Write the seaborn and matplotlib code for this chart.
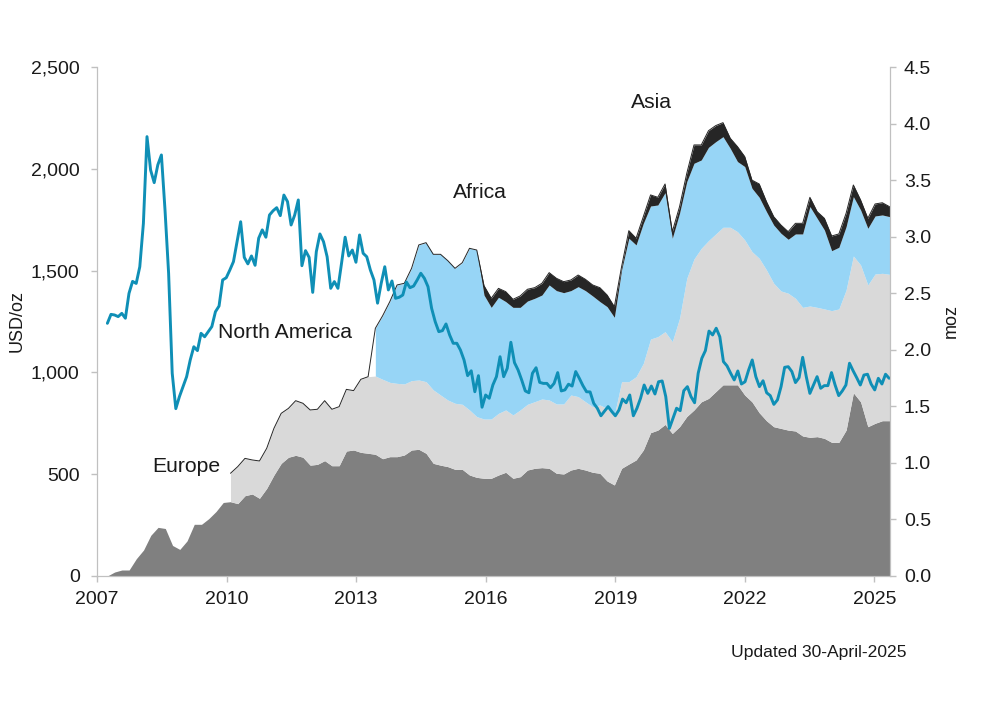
import numpy as np
import matplotlib
matplotlib.use("Agg")
import matplotlib.pyplot as plt
import seaborn as sb

sb.set_style("white")
plt.rcParams['font.family'] = ['Liberation Sans', 'DejaVu Sans']

# monthly price, USD/oz
price = [1241, 1285, 1282, 1274, 1290, 1266, 1388, 1447, 1437, 1519, 1732, 2158, 1994, 1932, 2019, 2068,
         1798, 1487, 996, 822, 881, 930, 979, 1061, 1126, 1107, 1192, 1175, 1200, 1225, 1298, 1326,
         1454, 1465, 1503, 1544, 1642, 1740, 1565, 1533, 1572, 1526, 1659, 1700, 1664, 1773, 1794, 1809,
         1770, 1871, 1839, 1724, 1773, 1847, 1524, 1598, 1565, 1393, 1593, 1680, 1642, 1568, 1413, 1446,
         1413, 1536, 1664, 1572, 1601, 1541, 1675, 1585, 1568, 1503, 1454, 1340, 1437, 1519, 1405, 1449,
         1364, 1369, 1380, 1444, 1416, 1424, 1454, 1487, 1462, 1421, 1315, 1249, 1200, 1205, 1238, 1184,
         1143, 1143, 1110, 1061, 984, 1008, 905, 984, 829, 889, 873, 938, 979, 1077, 979, 1020,
         1148, 1048, 1012, 963, 909, 900, 996, 1023, 951, 946, 946, 925, 946, 999, 909, 914,
         942, 933, 1004, 971, 935, 905, 904, 848, 824, 787, 810, 832, 808, 787, 815, 869,
         851, 889, 787, 824, 873, 938, 897, 933, 894, 954, 958, 881, 725, 775, 824, 812,
         910, 930, 881, 851, 996, 1069, 1107, 1203, 1184, 1217, 1175, 1053, 1032, 996, 963, 1007,
         943, 954, 1012, 1061, 979, 930, 959, 900, 886, 843, 865, 930, 1025, 1028, 1004, 950,
         974, 1074, 979, 897, 938, 979, 922, 935, 935, 999, 938, 886, 909, 938, 1045, 1008,
         974, 938, 987, 991, 943, 914, 971, 943, 991, 971]

# top edge of each stacked region, moz, every two months
europe_top = [0, 0.035, 0.053, 0.053, 0.153, 0.23, 0.36, 0.43, 0.42, 0.27, 0.235, 0.31, 0.457, 0.457, 0.507, 0.57,
              0.65, 0.657, 0.64, 0.71, 0.725, 0.687, 0.775, 0.893, 0.996, 1.05, 1.067, 1.05, 0.98, 0.987, 1.02, 0.975,
              0.975, 1.105, 1.114, 1.093, 1.085, 1.076, 1.037, 1.055, 1.055, 1.07, 1.114, 1.12, 1.085, 0.996, 0.98, 0.967,
              0.943, 0.943, 0.893, 0.872, 0.864, 0.864, 0.893, 0.917, 0.864, 0.878, 0.937, 0.952, 0.958, 0.952, 0.908, 0.902,
              0.937, 0.952, 0.937, 0.917, 0.908, 0.84, 0.805, 0.952, 0.99, 1.026, 1.114, 1.267, 1.29, 1.34, 1.26, 1.32,
              1.41, 1.468, 1.54, 1.57, 1.63, 1.69, 1.69, 1.69, 1.6, 1.54, 1.444, 1.373, 1.32, 1.305, 1.29, 1.282,
              1.238, 1.226, 1.232, 1.217, 1.182, 1.182, 1.29, 1.62, 1.54, 1.32, 1.35, 1.373, 1.373]
namerica_top = europe_top[:17] + [0.908, 0.967, 1.04, 1.026, 1.017, 1.129, 1.306, 1.438, 1.482, 1.55, 1.527, 1.468, 1.474, 1.55, 1.474,
              1.497, 1.65, 1.639, 1.739, 1.762, 1.768, 1.739, 1.712, 1.703, 1.698, 1.727, 1.733, 1.718, 1.645, 1.6, 1.556,
              1.527, 1.518, 1.468, 1.409, 1.388, 1.388, 1.438, 1.468, 1.424, 1.468, 1.518, 1.541, 1.565, 1.556, 1.521, 1.521,
              1.6, 1.586, 1.541, 1.497, 1.512, 1.482, 1.424, 1.718, 1.718, 1.762, 1.88, 2.095, 2.116, 2.16, 2.072, 2.278,
              2.632, 2.803, 2.897, 2.965, 3.024, 3.083, 3.083, 3.044, 2.971, 2.868, 2.809, 2.706, 2.588, 2.52, 2.5, 2.455,
              2.375, 2.387, 2.375, 2.361, 2.346, 2.361, 2.529, 2.829, 2.75, 2.573, 2.67, 2.676, 2.667]
africa_top = namerica_top[:37] + [2.19, 2.3, 2.426, 2.573, 2.588, 2.72, 2.927, 2.947, 2.844, 2.844, 2.788,
              2.72, 2.77, 2.897, 2.882, 2.484, 2.375, 2.464, 2.426, 2.375, 2.375, 2.431, 2.455, 2.484, 2.573, 2.523, 2.505,
              2.523, 2.558, 2.523, 2.476, 2.426, 2.381, 2.287, 2.706, 2.986, 2.927, 3.118, 3.271, 3.28, 3.389, 2.986, 3.207,
              3.487, 3.649, 3.678, 3.79, 3.84, 3.884, 3.781, 3.664, 3.62, 3.428, 3.348, 3.221, 3.103, 3.03, 2.977, 3.024,
              3.024, 3.266, 3.162, 3.059, 2.876, 2.906, 3.089, 3.354, 3.236, 3.074, 3.183, 3.192, 3.177]
asia_top = africa_top[:52] + [2.567, 2.455, 2.543, 2.514, 2.446, 2.476, 2.535, 2.549, 2.588, 2.682, 2.632, 2.602,
              2.617, 2.661, 2.623, 2.573, 2.549, 2.484, 2.381, 2.735, 3.053, 2.986, 3.177, 3.369, 3.348, 3.466, 3.044, 3.265,
              3.56, 3.811, 3.811, 3.937, 3.982, 4.008, 3.87, 3.796, 3.708, 3.5, 3.466, 3.31, 3.177, 3.103, 3.044, 3.118,
              3.118, 3.348, 3.221, 3.162, 3.006, 3.024, 3.207, 3.457, 3.324, 3.162, 3.289, 3.3, 3.265]

year_ticks = [2007, 2010, 2013, 2016, 2019, 2022, 2025]

price_x = np.linspace(2007.24, 2025.34, len(price))
stack_x = np.linspace(2007.24, 2025.35, len(europe_top))

fig = plt.figure(figsize=(10, 7.26), dpi=100)
ax = fig.add_axes([0.097, 1 - 576 / 726, 0.793, 509 / 726])
ax2 = ax.twinx()
ax.set_zorder(2)
ax.patch.set_visible(False)

ax2.fill_between(stack_x, 0, europe_top, color="#808080", lw=0)
# north america and africa start with a straight edge
ax2.fill_between(stack_x[17:], europe_top[17:], namerica_top[17:], color="#d9d9d9", lw=0)
ax2.fill_between(stack_x[37:], namerica_top[37:], africa_top[37:], color="#97d5f6", lw=0)
ax2.fill_between(stack_x, africa_top, asia_top, color="#262626", lw=0)
# asia is so small before 2016 it only shows as an outline
ax2.plot(stack_x[17:], asia_top[17:], color="#262626", lw=0.7)

sb.lineplot(x=price_x, y=price, ax=ax, color="#0f8fb6", lw=2.1, errorbar=None)

ax.set_xlim(2007, 2025.36)
ax.set_ylim(0, 2500)
ax2.set_ylim(0, 4.5)
ax.set_xticks(year_ticks)
ax.set_yticks(np.arange(0, 2501, 500))
ax.set_yticklabels([f"{v:,}" for v in range(0, 2501, 500)])
ax2.set_yticks(np.arange(0, 4.6, 0.5))
ax2.set_yticklabels([f"{v:.1f}" for v in np.arange(0, 4.6, 0.5)])

for a in (ax, ax2):
    a.spines["top"].set_visible(False)
    for s in a.spines.values():
        s.set_color("#c0c0c0")
    a.tick_params(axis="both", length=4, width=1, color="#c0c0c0", labelsize=14, labelcolor="#1a1a1a")
    a.grid(False)
ax.tick_params(axis="y", left=True, pad=8.5)
ax.tick_params(axis="x", bottom=True, pad=7)
ax2.tick_params(axis="y", right=True, pad=6)

ax.set_ylabel("USD/oz", fontsize=13, color="#1a1a1a")
ax2.set_ylabel("moz", fontsize=13, color="#1a1a1a")
ax.yaxis.set_label_coords(-0.0895, 0.5)
ax2.yaxis.set_label_coords(1.0668, 0.5)

fig.text(0.651, 1 - 102 / 726, "Asia", fontsize=15.2, ha="center", va="center", color="#1a1a1a")
fig.text(0.4795, 1 - 192 / 726, "Africa", fontsize=15.2, ha="center", va="center", color="#1a1a1a")
fig.text(0.2845, 1 - 333 / 726, "North America", fontsize=15.2, ha="center", va="center", color="#1a1a1a")
fig.text(0.186, 1 - 466 / 726, "Europe", fontsize=15.2, ha="center", va="center", color="#1a1a1a")
fig.text(0.819, 1 - 653 / 726, "Updated 30-April-2025", fontsize=12.6, ha="center", va="center", color="#1a1a1a")

plt.savefig("out.png")
